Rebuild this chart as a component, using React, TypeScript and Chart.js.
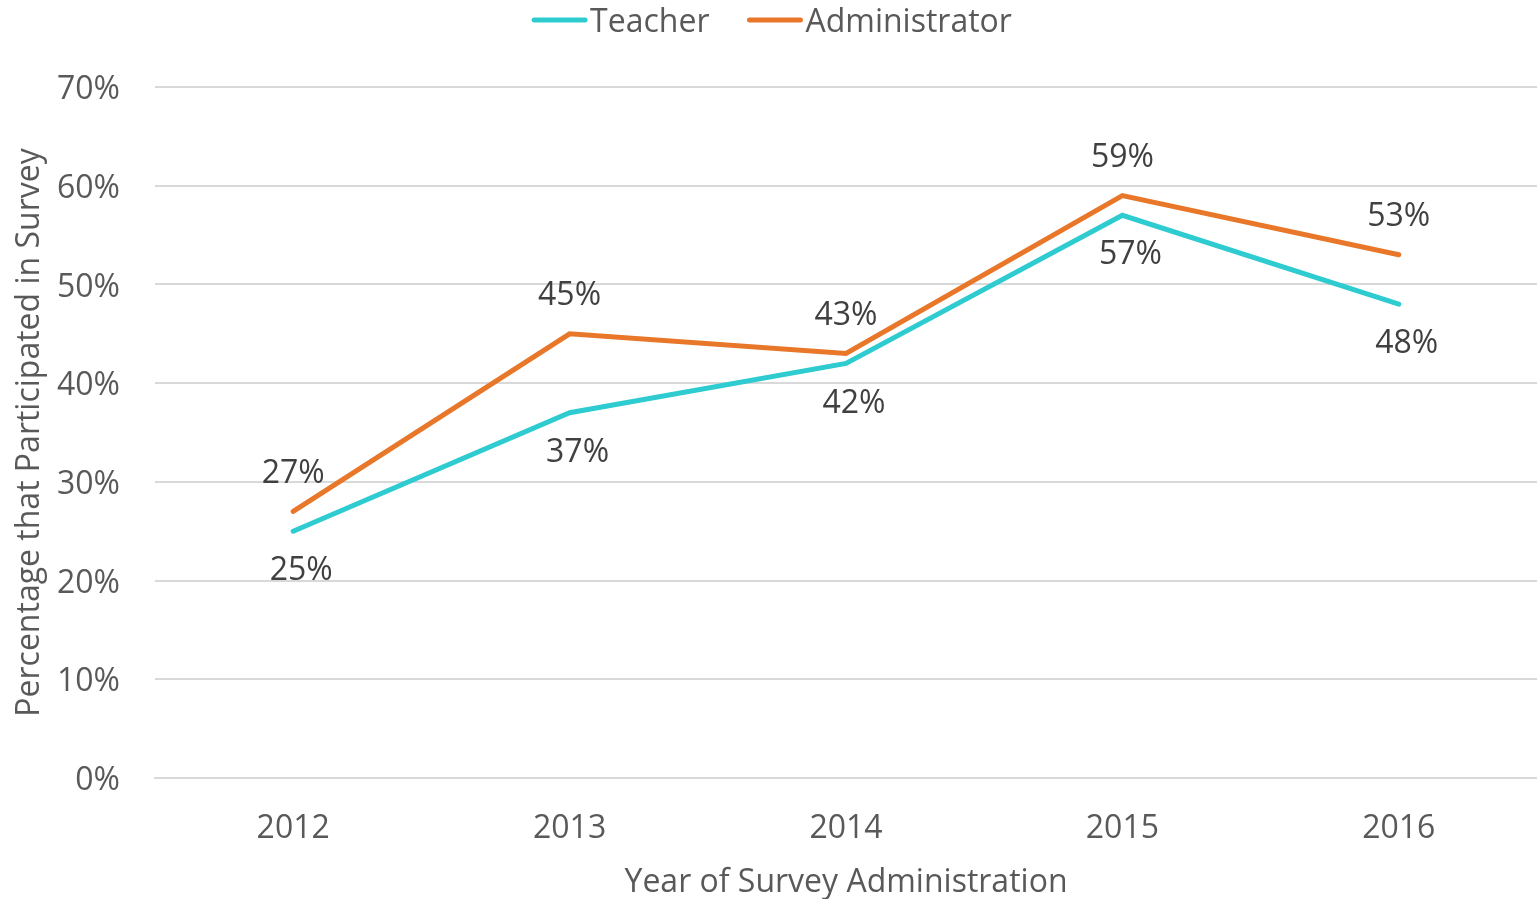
import React, { useEffect, useRef } from "react";
import { Chart, registerables } from "chart.js";

Chart.register(...registerables);

const years = ["2012", "2013", "2014", "2015", "2016"];
const teacher = [25, 37, 42, 57, 48];
const administrator = [27, 45, 43, 59, 53];
const yTicks = [0, 10, 20, 30, 40, 50, 60, 70];

const TEAL = "#2ECBD0";
const ORANGE = "#E8772A";
const FONT = "'Open Sans', sans-serif";
const FS = 32;

const labelPlugin = {
  id: "pointLabels",
  afterDatasetsDraw(chart: any) {
    const ctx = chart.ctx;
    ctx.save();
    ctx.font = `${FS}px ${FONT}`;
    ctx.fillStyle = "#404040";
    ctx.textAlign = "center";
    ctx.textBaseline = "middle";
    chart.data.datasets.forEach((ds: any, di: number) => {
      const meta = chart.getDatasetMeta(di);
      meta.data.forEach((pt: any, i: number) => {
        const dy = di === 0 ? 40 : -38;
        const dx = di === 0 ? 8 : 0;
        ctx.fillText(ds.data[i] + "%", pt.x + dx, pt.y + dy);
      });
    });
    ctx.restore();
  },
};

const legendPlugin = {
  id: "customLegend",
  afterDraw(chart: any) {
    const ctx = chart.ctx;
    ctx.save();
    ctx.font = `${FS}px ${FONT}`;
    ctx.textBaseline = "middle";
    ctx.textAlign = "left";
    const items = chart.data.datasets.map((d: any) => ({ label: d.label, color: d.borderColor }));
    const lineW = 55;
    const gap = 3;
    const itemGap = 38;
    let total = 0;
    items.forEach((it: any, i: number) => {
      total += lineW + gap + ctx.measureText(it.label).width + (i < items.length - 1 ? itemGap : 0);
    });
    let x = 772 - total / 2;
    const y = 20;
    items.forEach((it: any) => {
      ctx.strokeStyle = it.color;
      ctx.lineWidth = 5;
      ctx.lineCap = "round";
      ctx.beginPath();
      ctx.moveTo(x + 2, y);
      ctx.lineTo(x + lineW - 2, y);
      ctx.stroke();
      x += lineW + gap;
      ctx.fillStyle = "#595959";
      ctx.fillText(it.label, x, y + 3);
      x += ctx.measureText(it.label).width + itemGap;
    });
    ctx.restore();
  },
};

export default function App() {
  const ref = useRef<HTMLCanvasElement>(null);
  useEffect(() => {
    document.body.style.margin = "0";
    const chart = new Chart(ref.current!, {
      type: "line",
      data: {
        labels: years,
        datasets: [
          {
            label: "Teacher",
            data: teacher,
            borderColor: TEAL,
            backgroundColor: TEAL,
            borderWidth: 5,
            pointRadius: 0,
            tension: 0,
            borderCapStyle: "round",
          },
          {
            label: "Administrator",
            data: administrator,
            borderColor: ORANGE,
            backgroundColor: ORANGE,
            borderWidth: 5,
            pointRadius: 0,
            tension: 0,
            borderCapStyle: "round",
          },
        ],
      },
      options: {
        responsive: false,
        animation: false,
        layout: { padding: { top: 87, right: 0, left: 0, bottom: 0 } },
        plugins: {
          legend: { display: false },
          tooltip: { enabled: false },
        },
        scales: {
          x: {
            offset: true,
            grid: { display: false, drawTicks: false },
            border: { display: true, color: "#d9d9d9", width: 2 },
            ticks: { color: "#595959", font: { family: FONT, size: FS }, padding: 32 },
            title: {
              display: true,
              text: "Year of Survey Administration",
              color: "#595959",
              font: { family: FONT, size: FS },
              padding: { top: 0, bottom: -3 },
            },
            afterFit: (s: any) => {
              s.height = 121;
            },
          },
          y: {
            min: 0,
            max: 70,
            afterBuildTicks: (s: any) => {
              s.ticks = yTicks.map((v) => ({ value: v }));
            },
            grid: { color: "#d9d9d9", lineWidth: 2, drawTicks: false },
            border: { display: false },
            ticks: {
              color: "#595959",
              font: { family: FONT, size: FS },
              padding: 35,
              labelOffset: 3,
              callback: (v: any) => v + "%",
            },
            title: {
              display: true,
              text: "Percentage that Participated in Survey",
              color: "#595959",
              font: { family: FONT, size: FS },
              padding: { top: 11, bottom: 0 },
            },
            afterFit: (s: any) => {
              s.width = 155;
            },
          },
        },
      },
      plugins: [labelPlugin, legendPlugin],
    });
    return () => chart.destroy();
  }, []);
  return (
    <div style={{ position: "absolute", left: 0, top: 0, width: 1537, height: 899 }}>
      <canvas ref={ref} width={1537} height={899} />
    </div>
  );
}
